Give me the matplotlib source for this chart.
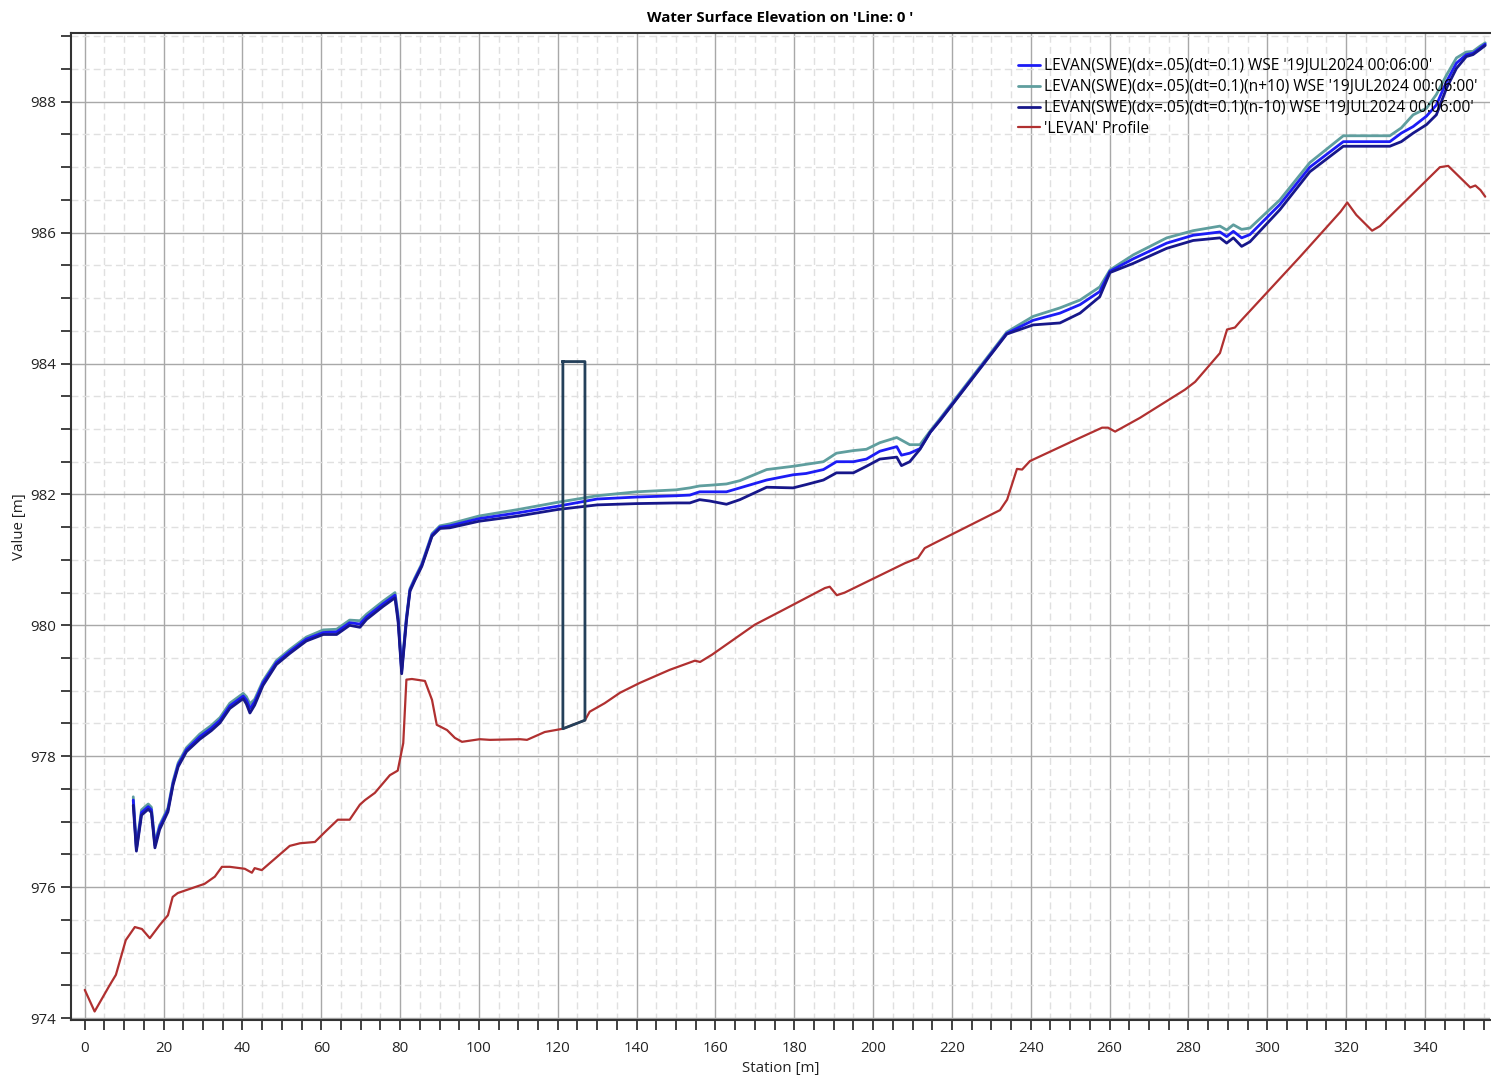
import matplotlib
matplotlib.use("Agg")
import matplotlib.pyplot as plt
from matplotlib.ticker import MultipleLocator

plt.rcParams['font.family'] = ['Open Sans', 'DejaVu Sans']

# Water surface stations (m)
wse_station = [12.3, 13.1, 14.4, 16.1, 16.9, 17.8, 19.0, 21.1, 22.4, 23.7, 25.8, 29.2, 32.1, 34.3,
               36.8, 40.2, 41.0, 41.9, 43.1, 45.2, 48.6, 52.0, 56.2, 60.5, 63.9, 67.2, 69.8, 71.5,
               75.7, 78.7, 79.5, 80.4, 81.6, 82.5, 83.7, 85.5, 88.1, 90.1, 92.6, 100, 110, 120,
               130, 140, 150, 153.5, 156, 158.5, 162.8, 166.2, 173, 179.7, 183, 187.4, 190.7, 195,
               198.3, 201.7, 206, 207.2, 209.3, 211.9, 214.5, 217, 233.9, 240.6, 247.4, 252.5,
               257.5, 260.1, 266, 274.5, 281.2, 288, 289.7, 291.4, 293.5, 295.6, 303.2, 310.8,
               319.3, 331.1, 334, 337, 340.4, 342.9, 345.5, 348, 350.5, 352.2, 354, 355.3]

wse_base = [977.33, 976.58, 977.14, 977.23, 977.18, 976.64, 976.92, 977.18, 977.59, 977.87, 978.10,
            978.30, 978.43, 978.55, 978.77, 978.92, 978.86, 978.73, 978.83, 979.12, 979.43, 979.60,
            979.79, 979.89, 979.90, 980.04, 980.02, 980.13, 980.33, 980.46, 980.10, 979.30, 980.10,
            980.54, 980.70, 980.92, 981.38, 981.50, 981.52, 981.63, 981.72, 981.82, 981.93, 981.96,
            981.98, 981.99, 982.04, 982.04, 982.04, 982.10, 982.22, 982.30, 982.32, 982.38, 982.50,
            982.50, 982.54, 982.66, 982.73, 982.60, 982.63, 982.70, 982.95, 983.14, 984.46, 984.66,
            984.77, 984.90, 985.10, 985.41, 985.60, 985.84, 985.96, 986.01, 985.94, 986.02, 985.92,
            985.97, 986.43, 987.00, 987.39, 987.39, 987.52, 987.62, 987.78, 987.95, 988.31, 988.59,
            988.72, 988.74, 988.82, 988.88]

wse_plus10 = [977.38, 976.62, 977.18, 977.27, 977.22, 976.68, 976.95, 977.21, 977.62, 977.90, 978.13,
              978.34, 978.47, 978.59, 978.81, 978.96, 978.91, 978.80, 978.87, 979.15, 979.46, 979.63,
              979.82, 979.93, 979.94, 980.08, 980.07, 980.17, 980.37, 980.50, 980.15, 979.33, 980.12,
              980.56, 980.72, 980.94, 981.40, 981.52, 981.55, 981.67, 981.77, 981.88, 981.98, 982.04,
              982.07, 982.10, 982.13, 982.14, 982.16, 982.21, 982.38, 982.43, 982.46, 982.50, 982.63,
              982.67, 982.69, 982.79, 982.87, 982.83, 982.76, 982.76, 982.97, 983.16, 984.48, 984.72,
              984.85, 984.97, 985.17, 985.43, 985.66, 985.92, 986.03, 986.10, 986.04, 986.12, 986.05,
              986.07, 986.50, 987.07, 987.48, 987.48, 987.60, 987.80, 987.90, 988.11, 988.41, 988.67,
              988.76, 988.77, 988.85, 988.90]

wse_minus10 = [977.25, 976.55, 977.10, 977.19, 977.14, 976.60, 976.88, 977.15, 977.56, 977.84, 978.07,
               978.26, 978.39, 978.51, 978.73, 978.88, 978.80, 978.66, 978.78, 979.08, 979.40, 979.57,
               979.76, 979.86, 979.86, 980.00, 979.97, 980.09, 980.29, 980.42, 980.05, 979.26, 980.06,
               980.52, 980.68, 980.90, 981.36, 981.48, 981.49, 981.59, 981.67, 981.77, 981.84, 981.86,
               981.87, 981.87, 981.92, 981.90, 981.85, 981.92, 982.11, 982.10, 982.15, 982.22, 982.33,
               982.33, 982.43, 982.54, 982.57, 982.44, 982.50, 982.69, 982.95, 983.13, 984.45, 984.59,
               984.62, 984.77, 985.02, 985.39, 985.53, 985.76, 985.88, 985.92, 985.84, 985.92, 985.79,
               985.86, 986.35, 986.93, 987.32, 987.32, 987.39, 987.52, 987.65, 987.80, 988.21, 988.51,
               988.69, 988.72, 988.80, 988.86]

# Ground profile
profile_station = [0, 2.5, 6.3, 7.9, 10.4, 12.7, 14.5, 16.5, 19.0, 21.1, 22.3, 23.6, 30.4, 33.0, 34.8,
                   36.8, 40.6, 42.4, 43.1, 44.9, 52.0, 54.6, 58.4, 60.9, 64.2, 67.2, 69.8, 71.1, 73.6,
                   77.4, 79.4, 80.8, 81.6, 83.0, 86.3, 88.1, 89.3, 91.9, 93.9, 95.7, 100.2, 102.8,
                   110.4, 112.2, 116.7, 121.3, 126.9, 128.1, 131.9, 135.8, 140.8, 148.4, 154.8, 156.1,
                   159.1, 170.0, 176.4, 187.8, 189.0, 190.8, 192.8, 208.1, 211.4, 213.1, 215.7, 232.2,
                   234.0, 236.5, 237.8, 239.8, 251.2, 258.1, 259.6, 261.4, 267.7, 279.1, 281.7, 288.0,
                   289.8, 291.8, 293.1, 308.3, 318.6, 320.3, 322.6, 326.6, 328.6, 343.8, 345.9, 351.5,
                   352.8, 354.1, 355.3]
profile_elev = [974.43, 974.10, 974.50, 974.66, 975.19, 975.39, 975.36, 975.22, 975.42, 975.57, 975.85,
                975.91, 976.05, 976.16, 976.31, 976.31, 976.28, 976.22, 976.29, 976.26, 976.63, 976.67,
                976.69, 976.84, 977.03, 977.03, 977.26, 977.33, 977.44, 977.71, 977.78, 978.20, 979.17,
                979.18, 979.15, 978.86, 978.48, 978.40, 978.28, 978.22, 978.26, 978.25, 978.26, 978.25,
                978.37, 978.42, 978.55, 978.68, 978.81, 978.97, 979.12, 979.32, 979.46, 979.44, 979.55,
                980.01, 980.21, 980.57, 980.59, 980.46, 980.50, 980.95, 981.03, 981.18, 981.26, 981.76,
                981.92, 982.39, 982.38, 982.51, 982.83, 983.02, 983.02, 982.96, 983.17, 983.60, 983.72,
                984.16, 984.52, 984.55, 984.64, 985.63, 986.32, 986.46, 986.27, 986.03, 986.10, 987.00,
                987.02, 986.69, 986.72, 986.65, 986.55]

# Structure outline: edges, top elevation, ground elevation at each edge
structure_station = [121.3, 126.9]
structure_top = 984.03
structure_ground = [978.42, 978.55]

labels = ["LEVAN(SWE)(dx=.05)(dt=0.1) WSE '19JUL2024 00:06:00'",
          "LEVAN(SWE)(dx=.05)(dt=0.1)(n+10) WSE '19JUL2024 00:06:00'",
          "LEVAN(SWE)(dx=.05)(dt=0.1)(n-10) WSE '19JUL2024 00:06:00'",
          "'LEVAN' Profile"]

fig = plt.figure(figsize=(14.91, 10.79), dpi=100)
ax = fig.add_axes([0.0476, 0.0547, 0.9517, 0.9147])

line_kw = dict(solid_joinstyle='round', solid_capstyle='round')
h_base, = ax.plot(wse_station, wse_base, color="#1c1cf5", lw=2.0, zorder=3, **line_kw)
h_plus, = ax.plot(wse_station, wse_plus10, color="#5f9e9e", lw=2.0, zorder=2, **line_kw)
h_minus, = ax.plot(wse_station, wse_minus10, color="#17178a", lw=2.0, zorder=4, **line_kw)
h_prof, = ax.plot(profile_station, profile_elev, color="#b03030", lw=1.6, zorder=3, **line_kw)

sx = [structure_station[0], structure_station[1], structure_station[1], structure_station[0], structure_station[0]]
sy = [structure_top, structure_top, structure_ground[1], structure_ground[0], structure_top]
ax.plot(sx, sy, color="#24405a", lw=2.0, zorder=5)

ax.set_xlim(-3.5, 356.5)
ax.set_ylim(973.97, 989.05)
ax.xaxis.set_major_locator(MultipleLocator(20))
ax.xaxis.set_minor_locator(MultipleLocator(5))
ax.yaxis.set_major_locator(MultipleLocator(2))
ax.yaxis.set_minor_locator(MultipleLocator(0.5))
ax.grid(which='major', color="#a8a8a8", lw=1.0, ls='-')
ax.grid(which='minor', color="#e0e0e0", lw=1.0, ls=(0, (5, 3)))
ax.set_axisbelow(True)
ax.tick_params(which='both', direction='out', length=7, width=1.3, color="#333333",
               labelsize=10.8, labelcolor="#222222")
ax.tick_params(axis='x', which='both', pad=8)
ax.tick_params(axis='y', which='both', pad=4)
ax.tick_params(which='both', top=False, right=False)
for s in ['left', 'bottom', 'top']:
    ax.spines[s].set_color("#333333")
    ax.spines[s].set_linewidth(1.5)
ax.spines['right'].set_visible(False)

ax.set_xlabel("Station [m]", fontsize=10.8, labelpad=4, color="#222222")
ax.set_ylabel("Value [m]", fontsize=10.8, labelpad=2, color="#222222")
ax.set_title("Water Surface Elevation on 'Line: 0 '", fontsize=10.8, fontweight='bold', pad=8)

ax.legend([h_base, h_plus, h_minus, h_prof], labels, loc='upper left',
          bbox_to_anchor=(1018 / 1491, 1 - 58 / 1079), bbox_transform=fig.transFigure,
          frameon=False, fontsize=11.2, handlelength=1.4, handletextpad=0.3,
          labelspacing=0.32, borderpad=0, borderaxespad=0)

fig.savefig("out.png", dpi=100)
